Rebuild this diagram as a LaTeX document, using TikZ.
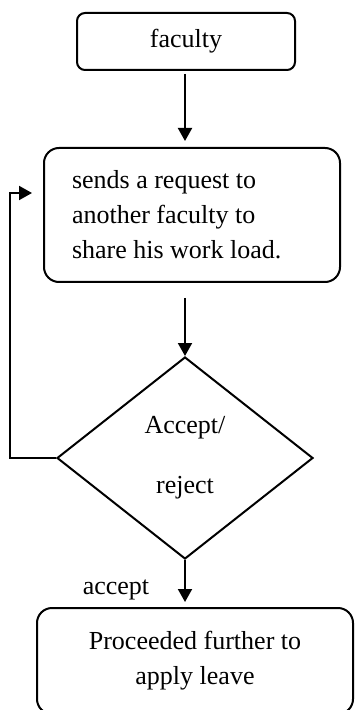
\documentclass[tikz,border=0pt]{standalone}
\usepackage{fontspec}
\setmainfont{Liberation Serif}
\usetikzlibrary{positioning,shapes.geometric,arrows.meta}

\begin{document}
\begin{tikzpicture}[x=0.5pt,y=-0.5pt,
		every node/.style={font=\fontsize{13pt}{17.5pt}\selectfont},
		box/.style={draw, rectangle, rounded corners=7.5pt, line width=1pt},
		decision/.style={draw, diamond, align=center, line width=1pt, inner sep=0pt, minimum width=128pt, minimum height=101pt},
		flow/.style={line width=1pt, -{Triangle[length=6.5pt,width=7pt]}}]
		\useasboundingbox (0,0) rectangle (355,710);
		\begin{scope}
			\node (fac) [box, rounded corners=4pt, minimum width=109pt, minimum height=28.5pt] at (186,41.5) {faculty};
			\node (req) [box, align=flush left, text width=120pt, minimum width=148pt, minimum height=67pt] at (192,215) {sends a request to\\another faculty to\\share his work load.};
			\node (dec) [decision] at (185,458) {Accept/\\[12.5pt]reject};
			\node (leave) [box, align=center, minimum width=158pt, minimum height=53pt] at (195,661) {Proceeded further to\\apply leave};
			\node (acc) at (116,590) {accept};
			\coordinate (loopin) at (32,193);
			
			\draw [flow, shorten <=1.5pt, shorten >=3pt] (fac.south -| dec.north) -- (req.north -| dec.north);
			\draw [flow, shorten <=7.5pt] (req.south -| dec.north) -- (dec.north);
			\draw [flow, shorten >=2.5pt] (dec.south) -- (leave.north -| dec.south);
			\draw [flow] (dec.west) -- ++(-46,0) |- (loopin);
		\end{scope}
	\end{tikzpicture}
\end{document}
